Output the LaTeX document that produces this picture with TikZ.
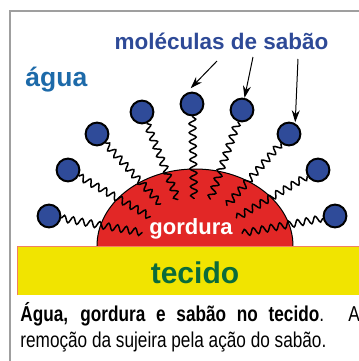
\documentclass[tikz,border=0pt]{standalone}
\usepackage{fontspec}
\setmainfont{Liberation Sans}
\newfontfamily\narrowfont[FakeStretch=0.8]{Liberation Sans}
\usetikzlibrary{arrows.meta,calc,decorations.pathmorphing}

\definecolor{soapblue}{HTML}{2F4B99}
\definecolor{fatred}{HTML}{E22726}
\definecolor{clothyellow}{HTML}{F1E400}
\definecolor{clothedge}{HTML}{F08060}
\definecolor{titleblue}{HTML}{2E4A97}
\definecolor{waterblue}{HTML}{1D6AA9}
\definecolor{clothgreen}{HTML}{0B6B3A}

\begin{document}
\begin{tikzpicture}[x=0.5pt, y=0.5pt, >={Stealth[length=6pt,width=4pt]},
    soap/.style={circle, draw=black, line width=1pt, fill=soapblue,
                 inner sep=0pt, minimum size=11.4pt},
    tail/.style={line width=0.75pt, decorate,
                 decoration={snake, segment length=4.5pt, amplitude=1.7pt}},
    boldtext/.style={inner sep=0pt, font=\bfseries\fontsize{#1}{#1}\selectfont}]
    \useasboundingbox (0,0) rectangle (359,361);

    \draw[gray!75, line width=1.2pt] (10,-5) |- (365,350);

    % the grease drop and the soap molecules sticking into it
    \coordinate (C) at (195,119);
    \filldraw[fill=fatred, draw=black, line width=0.5pt]
        (97,115) arc[start angle=180, end angle=0, x radius=98, y radius=77];

    \foreach \s/\x/\y in {soap1/49/145, soap2/68/191, soap3/97/227,
                          soap4/142/249, soap5/192/257, soap6/242/251,
                          soap7/289/227, soap8/318/191, soap9/335/145} {
        \node[soap] (\s) at (\x,\y) {};
        \draw[tail] (\s) -- ($(\s)!47.5pt!(C)$);
    }

    % the cloth
    \fill[clothyellow] (18,66) rectangle (365,115);
    \draw[clothedge, line width=0.5pt] (18,66) -- (18,115) -- (365,115);

    \node[boldtext=11, anchor=base, text=white] (fat) at (191,127) {gordura};
    \node[boldtext=15, anchor=base, text=clothgreen] (cloth) at (195,78) {tecido};
    \node[boldtext=13.25, anchor=base west, text=waterblue] (water) at (25,275) {água};
    \node[boldtext=11.25, anchor=base, text=titleblue] (title) at (221.5,312) {moléculas de sabão};

    \coordinate (a1) at (217,300);
    \coordinate (a2) at (253,304);
    \coordinate (a3) at (298,302);
    \draw[->, line width=0.5pt, shorten >=3.5pt] (a1) -- (soap5.120);
    \draw[->, line width=0.5pt] (a2) -- (soap6);
    \draw[->, line width=0.5pt, shorten >=0.5pt] (a3) -- (soap7.60);

    % caption
    \node[anchor=base west, inner sep=0pt, font=\narrowfont\fontsize{10.75}{13}\selectfont] (cap1) at (20,39.5)
        {\makebox[169.75pt][s]{\textbf{Água, gordura e sabão no tecido}. A}};
    \node[anchor=base west, inner sep=0pt, font=\narrowfont\fontsize{10.75}{13}\selectfont] (cap2) at (20,13)
        {remoção da sujeira pela ação do sabão.};
\end{tikzpicture}
\end{document}
